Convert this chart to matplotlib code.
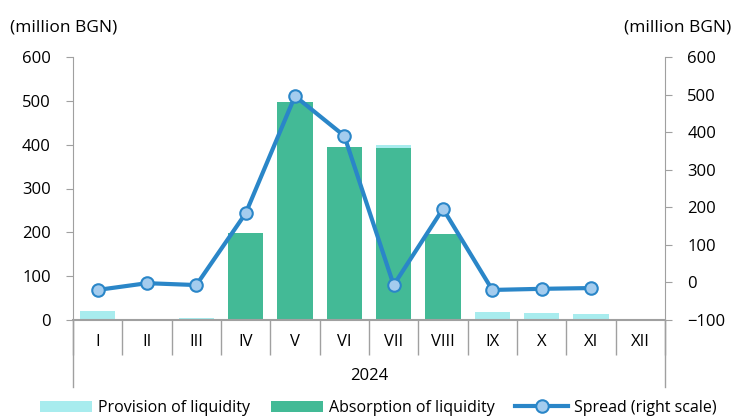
import numpy as np
import matplotlib
matplotlib.use('Agg')
import matplotlib.pyplot as plt
from matplotlib.lines import Line2D

plt.rcParams['font.family'] = ['Open Sans', 'DejaVu Sans']

months = ['I', 'II', 'III', 'IV', 'V', 'VI', 'VII', 'VIII', 'IX', 'X', 'XI', 'XII']
absorption = [0, 0, 0, 199, 497, 395, 393, 196, 0, 0, 0, 0]
provision = [20, 0, 5, 0, 0, 0, 6, 0, 18, 15, 13, 0]
spread = [-20, -2, -7, 184, 496, 390, -7, 196, -20, -17, -15, np.nan]

c_prov = '#A8ECEE'
c_abs = '#43BA96'
c_line = '#2A86C8'
c_mark = '#A4CCEE'
c_axis = '#A0A0A0'
fs = 12

fig = plt.figure(figsize=(7.34, 4.17), dpi=100)
ax = fig.add_axes([73 / 734, 97 / 417, 592 / 734, 263 / 417])
x = np.arange(len(months))

ax.bar(x, absorption, width=0.71, color=c_abs, label='Absorption of liquidity', zorder=2)
ax.bar(x, provision, width=0.71, bottom=absorption, color=c_prov,
       label='Provision of liquidity', zorder=2)
ax.set_xlim(-0.5, 11.5)
ax.set_ylim(0, 600)
ax.set_yticks(range(0, 601, 100))

ax2 = ax.twinx()
ax2.plot(x, spread, color=c_line, lw=3, marker='o', ms=9, mfc=c_mark, mec=c_line,
         mew=1.5, label='Spread (right scale)', zorder=3)
ax2.set_ylim(-100, 600)
ax2.set_yticks(range(-100, 601, 100))

for a in (ax, ax2):
    for s in a.spines.values():
        s.set_visible(False)
    a.tick_params(axis='y', length=5, color=c_axis, labelsize=fs, pad=11)
ax.spines['left'].set_visible(True)
ax.spines['left'].set_color(c_axis)
ax2.spines['right'].set_visible(True)
ax2.spines['right'].set_color(c_axis)
ax.spines['bottom'].set_visible(True)
ax.spines['bottom'].set_color(c_axis)
ax.spines['bottom'].set_linewidth(1.5)
ax.spines['bottom'].set_zorder(4)

# category labels and separators
ax.set_xticks(x)
ax.set_xticklabels(months)
ax.tick_params(axis='x', length=0, labelsize=fs, pad=10)
ax.set_xticks(np.arange(-0.5, 12, 1), minor=True)
ax.tick_params(axis='x', which='minor', length=25, color=c_axis, width=1)

# extend outer axis lines down
for xv in (0, 1):
    ax.add_line(Line2D([xv, xv], [0, -67 / 263], transform=ax.transAxes,
                       color=c_axis, lw=1, clip_on=False))
ax.text(0.5, -56 / 263, '2024', transform=ax.transAxes, ha='center', va='center',
        fontsize=fs)

fig.text(10 / 734, 1 - 27 / 417, '(million BGN)', ha='left', va='center', fontsize=fs + 0.5)
fig.text(731 / 734, 1 - 27 / 417, '(million BGN)', ha='right', va='center', fontsize=fs + 0.5)

h1, l1 = ax.get_legend_handles_labels()
h2, l2 = ax2.get_legend_handles_labels()
handles = [h1[1], h1[0], h2[0]]
labels = [l1[1], l1[0], l2[0]]
fig.legend(handles, labels, loc='center', bbox_to_anchor=(378 / 734, 1 - 408 / 417), ncol=3,
           frameon=False, fontsize=11.5, handlelength=3.3, handleheight=0.7,
           columnspacing=1.3, handletextpad=0.35)

fig.savefig('out.png', dpi=100)
